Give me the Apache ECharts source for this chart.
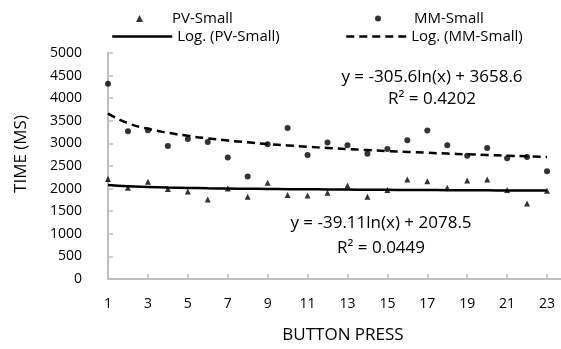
<!DOCTYPE html>
<html>
<head>
<meta charset="utf-8">
<script src="https://cdn.jsdelivr.net/npm/echarts@6/dist/echarts.min.js"></script>
<style>
  html, body { margin: 0; padding: 0; background: #fff; }
  #main { width: 561px; height: 349px; }
</style>
</head>
<body>
<div id="main"></div>
<script>
// button press number (x)
var presses = [1, 2, 3, 4, 5, 6, 7, 8, 9, 10, 11, 12, 13, 14, 15, 16, 17, 18, 19, 20, 21, 22, 23];
// time in ms
var pvSmall = [2210, 2020, 2150, 1990, 1935, 1760, 2000, 1820, 2130, 1860, 1845, 1910, 2070, 1820, 1970, 2200, 2160, 2020, 2180, 2200, 1970, 1670, 1950];
var mmSmall = [4320, 3270, 3290, 2940, 3100, 3030, 2690, 2270, 2980, 3340, 2745, 3020, 2960, 2770, 2875, 3070, 3285, 2960, 2725, 2900, 2670, 2700, 2385];
// trend lines as drawn (log fit)
var pvTrend = [2079, 2051, 2036, 2024, 2016, 2008, 2002, 1997, 1993, 1988, 1985, 1981, 1978, 1975, 1973, 1970, 1968, 1965, 1963, 1961, 1959, 1958, 1956];
var mmTrend = [3659, 3447, 3323, 3235, 3167, 3111, 3064, 3023, 2987, 2955, 2926, 2899, 2875, 2852, 2831, 2811, 2793, 2775, 2759, 2743, 2728, 2714, 2700];
var xTicks = [1, 3, 5, 7, 9, 11, 13, 15, 17, 19, 21, 23];

function pairs(vals) {
  return presses.map(function (x, i) { return [x, vals[i]]; });
}

var font = 'Open Sans';
function legendText(padLeft) {
  return { fontFamily: font, fontSize: 15, color: '#000', padding: [0, 0, 0, padLeft] };
}
var chart = echarts.init(document.getElementById('main'));

chart.setOption({
  animation: false,
  textStyle: { fontFamily: font, color: '#000' },
  grid: { left: 108, right: 0, top: 53, bottom: 66 },
  legend: [
    { data: [{ name: 'PV-Small', icon: 'triangle' }], left: 131, top: 6, itemWidth: 7, itemHeight: 7,
      textStyle: legendText(24) },
    { data: [{ name: 'MM-Small', icon: 'circle' }], left: 370, top: 6, itemWidth: 6, itemHeight: 6,
      textStyle: legendText(28) },
    // trend lines: line only, hide the centre dot
    { data: ['Log. (PV-Small)'], left: 106, top: 24, itemWidth: 60, itemHeight: 14,
      itemStyle: { opacity: 0 }, lineStyle: { width: 2.5 }, textStyle: legendText(0) },
    { data: ['Log. (MM-Small)'], left: 340, top: 24, itemWidth: 60, itemHeight: 14,
      itemStyle: { opacity: 0 }, lineStyle: { width: 2.5 }, textStyle: legendText(0) }
  ],
  xAxis: {
    type: 'value',
    min: 1,
    max: 23.7,
    name: 'BUTTON PRESS',
    nameLocation: 'middle',
    nameGap: 48,
    nameTextStyle: { fontFamily: font, fontSize: 17, color: '#000', padding: [0, 0, 0, 17] },
    axisLine: { show: true, lineStyle: { color: '#bfbfbf', width: 2 } },
    axisTick: { show: true, inside: true, length: 5, customValues: xTicks, lineStyle: { color: '#bfbfbf', width: 1.5 } },
    axisLabel: { customValues: xTicks, fontFamily: font, fontSize: 14, color: '#000', margin: 18 },
    splitLine: { show: false }
  },
  yAxis: {
    type: 'value',
    min: 0,
    max: 5000,
    interval: 500,
    name: 'TIME (MS)',
    nameLocation: 'middle',
    nameGap: 78,
    nameTextStyle: { fontFamily: font, fontSize: 17, color: '#000', padding: [0, 0, 0, 24] },
    axisLine: { show: true, lineStyle: { color: '#bfbfbf', width: 2 } },
    axisTick: { show: true, inside: true, length: 5, lineStyle: { color: '#bfbfbf', width: 1.5 } },
    axisLabel: {
      fontFamily: font, fontSize: 14, color: '#000', margin: 26,
      formatter: function (v) { return String(v); }
    },
    splitLine: { show: false }
  },
  series: [
    {
      name: 'PV-Small',
      type: 'scatter',
      symbol: 'triangle',
      symbolSize: 6,
      itemStyle: { color: '#000' },
      data: pairs(pvSmall)
    },
    {
      name: 'MM-Small',
      type: 'scatter',
      symbol: 'circle',
      symbolSize: 6,
      itemStyle: { color: '#000' },
      data: pairs(mmSmall)
    },
    {
      name: 'Log. (PV-Small)',
      type: 'line',
      smooth: true,
      showSymbol: false,
      symbol: 'none',
      lineStyle: { color: '#000', width: 2.5 },
      itemStyle: { color: '#000' },
      data: pairs(pvTrend)
    },
    {
      name: 'Log. (MM-Small)',
      type: 'line',
      smooth: true,
      showSymbol: false,
      symbol: 'none',
      lineStyle: { color: '#000', width: 2.5, type: [8, 5] },
      itemStyle: { color: '#000' },
      data: pairs(mmTrend)
    }
  ],
  graphic: [
    { type: 'text', x: 432, y: 77, style: { text: 'y = -305.6ln(x) + 3658.6', font: '17px "Open Sans"', fill: '#000', align: 'center', verticalAlign: 'middle' } },
    { type: 'text', x: 432, y: 99, style: { text: 'R² = 0.4202', font: '17px "Open Sans"', fill: '#000', align: 'center', verticalAlign: 'middle' } },
    { type: 'text', x: 381, y: 223, style: { text: 'y = -39.11ln(x) + 2078.5', font: '17px "Open Sans"', fill: '#000', align: 'center', verticalAlign: 'middle' } },
    { type: 'text', x: 381, y: 248, style: { text: 'R² = 0.0449', font: '17px "Open Sans"', fill: '#000', align: 'center', verticalAlign: 'middle' } }
  ]
});
</script>
</body>
</html>
